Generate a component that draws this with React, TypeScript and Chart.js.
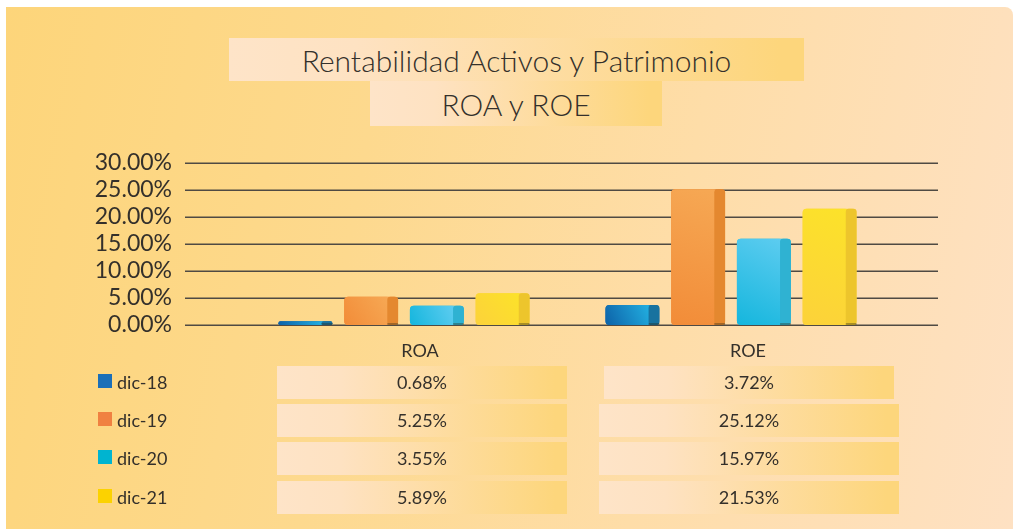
import React, { useEffect, useRef } from 'react';
import { Chart, registerables } from 'chart.js';

Chart.register(...registerables);

const categories = ['ROA', 'ROE'];
const seriesNames = ['dic-18', 'dic-19', 'dic-20', 'dic-21'];
const dic18 = [0.68, 3.72];
const dic19 = [5.25, 25.12];
const dic20 = [3.55, 15.97];
const dic21 = [5.89, 21.53];
const seriesValues = [dic18, dic19, dic20, dic21];
const yMin = 0;
const yMax = 30;
const yStep = 5;
const titleLines = ['Rentabilidad Activos y Patrimonio', 'ROA y ROE'];

const legendColors = ['#1B6FB8', '#F08141', '#00B4D0', '#FCD200'];
const frontFrom = ['#0D62A8', '#F28C38', '#15B6DD', '#FCD23A'];
const frontTo = ['#22AEE0', '#F6A854', '#5CCCF0', '#FCE22A'];
const sideColors = ['#18729F', '#E4882F', '#2FB2D2', '#EDC52C'];

const FONT = 'Lato, "Open Sans", "DejaVu Sans", sans-serif';
const TEXT = '#34302b';

function roundRectPath(ctx: CanvasRenderingContext2D, x: number, y: number, w: number, h: number, r: number) {
  const rr = Math.max(0, Math.min(r, w / 2, h / 2));
  ctx.beginPath();
  ctx.moveTo(x + rr, y);
  ctx.lineTo(x + w - rr, y);
  ctx.quadraticCurveTo(x + w, y, x + w, y + rr);
  ctx.lineTo(x + w, y + h - rr);
  ctx.quadraticCurveTo(x + w, y + h, x + w - rr, y + h);
  ctx.lineTo(x + rr, y + h);
  ctx.quadraticCurveTo(x, y + h, x, y + h - rr);
  ctx.lineTo(x, y + rr);
  ctx.quadraticCurveTo(x, y, x + rr, y);
  ctx.closePath();
}

const gridPlugin = {
  id: 'extendedGrid',
  beforeDatasetsDraw(chart: any) {
    const { ctx, chartArea, scales } = chart;
    const ys = scales.y;
    ctx.save();
    ctx.strokeStyle = '#4f4a43';
    ctx.lineWidth = 1.5;
    ys.ticks.forEach((t: any) => {
      const py = Math.round(ys.getPixelForValue(t.value)) + 0.25;
      ctx.beginPath();
      ctx.moveTo(chartArea.left - 55.5, py);
      ctx.lineTo(chartArea.right + 43.5, py);
      ctx.stroke();
    });
    ctx.restore();
  },
};

const bar3dPlugin = {
  id: 'bar3d',
  afterDatasetsDraw(chart: any) {
    const { ctx } = chart;
    ctx.save();
    chart.data.datasets.forEach((_ds: any, di: number) => {
      const meta = chart.getDatasetMeta(di);
      meta.data.forEach((bar: any) => {
        const { x, y, base, width } = bar.getProps(['x', 'y', 'base', 'width'], true);
        const left = x - width / 2;
        const h = base - y;
        const sideW = width * 0.2;
        const frontW = width - sideW;
        const g = ctx.createLinearGradient(left, base, left + frontW, y);
        g.addColorStop(0, frontFrom[di]);
        g.addColorStop(1, frontTo[di]);
        roundRectPath(ctx, left, y, frontW + 3, h, 4);
        ctx.fillStyle = g;
        ctx.fill();
        roundRectPath(ctx, left + frontW, y, sideW, h, 3);
        ctx.fillStyle = sideColors[di];
        ctx.fill();
        ctx.fillStyle = 'rgba(40,40,20,0.35)';
        ctx.fillRect(left + frontW, base - 2, sideW, 2);
      });
    });
    ctx.restore();
  },
};

function ChartCanvas() {
  const ref = useRef<HTMLCanvasElement | null>(null);
  useEffect(() => {
    if (!ref.current) return;
    const chart = new Chart(ref.current, {
      type: 'bar',
      data: {
        labels: categories,
        datasets: seriesValues.map((vals, i) => ({
          label: seriesNames[i],
          data: vals,
          backgroundColor: frontFrom[i],
          borderRadius: 4,
          borderSkipped: false,
          categoryPercentage: 0.804,
          barPercentage: 0.82,
        })),
      },
      options: {
        responsive: false,
        animation: false,
        events: [],
        layout: { padding: { left: 0, right: 118.5, top: 163, bottom: 95 } },
        plugins: { legend: { display: false }, tooltip: { enabled: false }, title: { display: false } },
        scales: {
          x: { display: false, offset: true, grid: { display: false } },
          y: {
            min: yMin,
            max: yMax,
            border: { display: false },
            grid: { display: false, drawTicks: false, tickLength: 0 },
            afterFit: (scale: any) => {
              scale.width = 240.5;
            },
            ticks: {
              stepSize: yStep,
              autoSkip: false,
              padding: 68.5,
              color: TEXT,
              font: { family: FONT, size: 23 },
              callback: (v: any) => Number(v).toFixed(2) + '%',
            },
          },
        },
      },
      plugins: [gridPlugin, bar3dPlugin],
    });
    return () => chart.destroy();
  }, []);
  return <canvas ref={ref} width={1013} height={420} style={{ position: 'absolute', left: 0, top: 0 }} />;
}

const boxGradient = 'linear-gradient(90deg, #FEE4C8 0%, #FEE2C2 22%, #FDD67C 96%, #FDD67C 100%)';

const rowTops = [366, 404, 442, 481];
const rowH = 33;
const colBoxes = [
  { left: 277, width: 290, center: 420 },
  { left: 599, width: 300, center: 748 },
];

export default function App() {
  return (
    <div style={{ position: 'fixed', left: 0, top: 0, width: 1013, height: 529, background: '#ffffff', overflow: 'hidden', fontFamily: FONT }}>
      <div
        style={{
          position: 'absolute',
          left: 6,
          top: 7,
          right: 0,
          bottom: 0,
          borderTopRightRadius: 8,
          background: 'linear-gradient(100deg, #FDD57A 0%, #FDD98E 35%, #FEDDA8 65%, #FEE1C3 100%)',
        }}
      />
      <div style={{ position: 'absolute', left: 229, top: 38, width: 575, height: 43, background: boxGradient, display: 'flex', alignItems: 'center', justifyContent: 'center' }}>
        <span style={{ fontSize: 30, fontWeight: 300, color: TEXT, whiteSpace: 'nowrap' }}>{titleLines[0]}</span>
      </div>
      <div style={{ position: 'absolute', left: 370, top: 81, width: 292, height: 45, background: boxGradient, display: 'flex', alignItems: 'center', justifyContent: 'center' }}>
        <span style={{ fontSize: 30, fontWeight: 300, color: TEXT, whiteSpace: 'nowrap' }}>{titleLines[1]}</span>
      </div>
      <ChartCanvas />
      {categories.map((c, ci) => (
        <div key={c} style={{ position: 'absolute', left: colBoxes[ci].center - 60, width: 120, top: 340, height: 20, textAlign: 'center', fontSize: 18, lineHeight: '20px', color: TEXT }}>
          {c}
        </div>
      ))}
      {seriesNames.map((name, ri) => (
        <React.Fragment key={name}>
          <div style={{ position: 'absolute', left: 98, top: rowTops[ri] + 8, width: 14, height: 14, background: legendColors[ri] }} />
          <div style={{ position: 'absolute', left: 117, top: rowTops[ri], height: rowH, lineHeight: rowH + 'px', fontSize: 18, color: TEXT }}>{name}</div>
          {categories.map((c, ci) => {
            const narrow = ci === 1 && ri === 0;
            const left = narrow ? colBoxes[ci].left + 5 : colBoxes[ci].left;
            const width = narrow ? colBoxes[ci].width - 10 : colBoxes[ci].width;
            return (
              <div
                key={c}
                style={{ position: 'absolute', left, width, top: rowTops[ri], height: rowH, background: boxGradient, textAlign: 'center', lineHeight: rowH + 'px', fontSize: 18, color: TEXT }}
              >
                {seriesValues[ri][ci].toFixed(2) + '%'}
              </div>
            );
          })}
        </React.Fragment>
      ))}
    </div>
  );
}
